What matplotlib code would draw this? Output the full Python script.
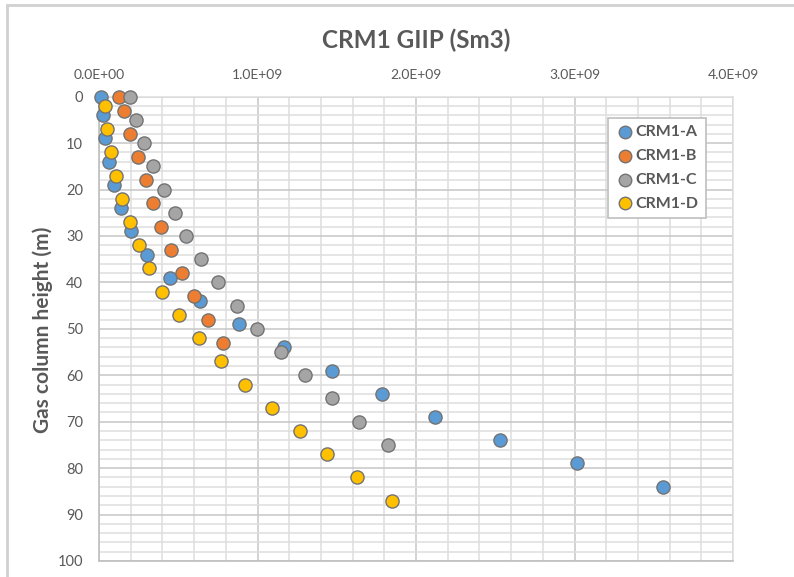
import matplotlib
matplotlib.use("Agg")
import matplotlib.pyplot as plt
from matplotlib.ticker import MultipleLocator, FuncFormatter
from matplotlib.patches import Rectangle

plt.rcParams['font.family'] = ['Lato', 'DejaVu Sans']

# Data (GIIP in Sm3, gas column height in m)
height_a = [0, 4, 9, 14, 19, 24, 29, 34, 39, 44, 49, 54, 59, 64, 69, 74, 79, 84]
giip_a = [0.013, 0.027, 0.040, 0.063, 0.093, 0.137, 0.204, 0.301, 0.446, 0.636,
          0.884, 1.170, 1.471, 1.787, 2.123, 2.532, 3.013, 3.559]
height_b = [0, 3, 8, 13, 18, 23, 28, 33, 38, 43, 48, 53]
giip_b = [0.124, 0.160, 0.198, 0.246, 0.295, 0.343, 0.391, 0.452, 0.526, 0.602,
          0.688, 0.783]
height_c = [0, 5, 10, 15, 20, 25, 30, 35, 40, 45, 50, 55, 60, 65, 70, 75]
giip_c = [0.194, 0.236, 0.284, 0.343, 0.410, 0.478, 0.551, 0.646, 0.751, 0.869,
          0.999, 1.147, 1.302, 1.471, 1.643, 1.822]
height_d = [2, 7, 12, 17, 22, 27, 32, 37, 42, 47, 52, 57, 62, 67, 72, 77, 82, 87]
giip_d = [0.036, 0.050, 0.076, 0.109, 0.145, 0.194, 0.250, 0.316, 0.398, 0.507,
          0.629, 0.768, 0.924, 1.094, 1.265, 1.437, 1.629, 1.846]

series_names = ['CRM1-A', 'CRM1-B', 'CRM1-C', 'CRM1-D']
series_colors = ['#5B9BD5', '#ED7D31', '#A5A5A5', '#FFC000']
scale = 1e9

fig = plt.figure(figsize=(7.94, 5.77), dpi=100)
ax = fig.add_axes([99/794, 1-561/577, (733-99)/794, (561-96.7)/577])

# outer chart border
fig.patches.append(Rectangle((7/794, -0.1), 1.2, 1 - 5/577 + 0.1,
                             transform=fig.transFigure, fill=False,
                             edgecolor='#d0d0d0', linewidth=2, zorder=0))

data = [(giip_a, height_a), (giip_b, height_b), (giip_c, height_c), (giip_d, height_d)]
for (xs, ys), name, col in zip(data, series_names, series_colors):
    ax.scatter([v * scale for v in xs], ys, s=90, color=col, edgecolors='#737373',
               linewidths=1.0, label=name, zorder=3, clip_on=False)

ax.set_xlim(0, 4e9)
ax.set_ylim(100, 0)
ax.xaxis.set_major_locator(MultipleLocator(1e9))
ax.xaxis.set_minor_locator(MultipleLocator(0.2e9))
ax.yaxis.set_major_locator(MultipleLocator(10))
ax.yaxis.set_minor_locator(MultipleLocator(2))
ax.xaxis.set_major_formatter(FuncFormatter(lambda v, p: f"{v:.1E}"))
ax.xaxis.tick_top()

ax.grid(True, which='major', color='#c6c6c6', linewidth=1.1, zorder=0)
ax.grid(True, which='minor', color='#dedede', linewidth=1.1, zorder=0)
ax.set_axisbelow(True)

for side in ['top', 'right']:
    ax.spines[side].set_color('#dedede')
    ax.spines[side].set_linewidth(1.1)
for side in ['left', 'bottom']:
    ax.spines[side].set_color('#bfbfbf')
    ax.spines[side].set_linewidth(1.2)

ax.tick_params(which='both', length=0)
ax.tick_params(axis='x', labelsize=10, colors='#595959', pad=11.5)
ax.tick_params(axis='y', labelsize=10.5, colors='#595959', pad=11.5)

ax.set_ylabel('Gas column height (m)', fontsize=15, fontweight='bold',
              color='#595959')
ax.yaxis.set_label_coords((53-99)/634, (561-330)/464.3)

fig.text((99+733)/2/794, 1-40/577, 'CRM1 GIIP (Sm3)', ha='center', va='center',
         fontsize=17.5, fontweight='bold', color='#595959')

leg = ax.legend(loc='upper left', bbox_to_anchor=((607.7-99)/634, 1-(118-96.7)/464.3),
                borderaxespad=0,
                frameon=True, fancybox=False, edgecolor='#bfbfbf', framealpha=1,
                borderpad=0.45, handletextpad=0.0, labelspacing=0.6,
                handlelength=1.3, markerscale=0.95,
                prop={'weight': 'bold', 'size': 11.5})
leg.get_frame().set_linewidth(1.2)
for t in leg.get_texts():
    t.set_color('#595959')

fig.savefig('out.png', dpi=100)
